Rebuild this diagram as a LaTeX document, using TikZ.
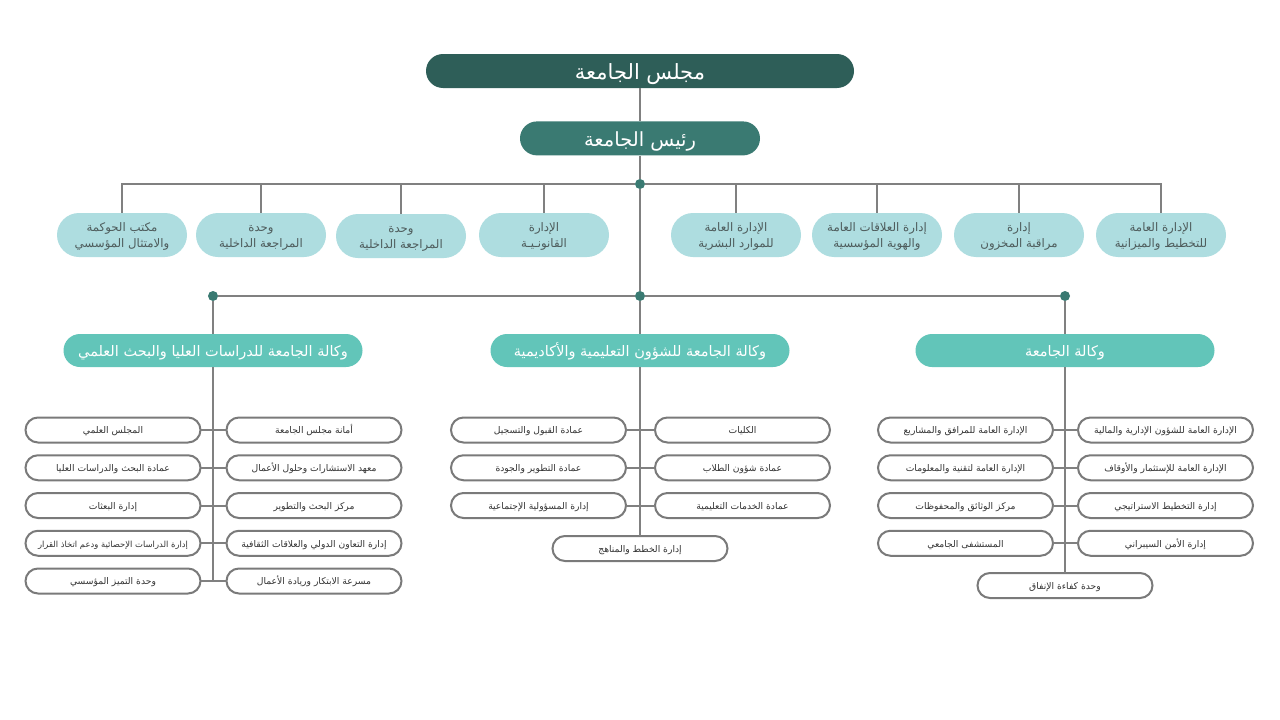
\documentclass[tikz,border=0pt]{standalone}
\usepackage{fontspec}
\setmainfont{DejaVu Sans}
\newfontfamily\arabicfont[Script=Arabic]{DejaVu Sans}
\TeXXeTstate=1
\usetikzlibrary{positioning}

\definecolor{majlisgreen}{RGB}{46,94,88}
\definecolor{raisgreen}{RGB}{58,122,114}
\definecolor{deptblue}{RGB}{174,221,224}
\definecolor{wakalateal}{RGB}{98,197,185}
\definecolor{deptgray}{RGB}{78,92,92}
\definecolor{linegray}{RGB}{128,128,128}
\definecolor{boxgray}{RGB}{122,122,122}

% fixed first-line height and last-line depth for two-line labels
\newcommand{\topstrut}{\rule{0pt}{14pt}}
\newcommand{\botstrut}{\rule[-5pt]{0pt}{0pt}}

\tikzset{
  conn/.style={draw=linegray,line width=2pt},
  majlisbox/.style={fill=majlisgreen,text=white,rounded corners=17pt,
    minimum width=428pt,minimum height=34pt,inner sep=0pt,
    text height=17.8pt,text depth=0pt,
    font=\arabicfont\fontsize{21}{24}\selectfont},
  raisbox/.style={fill=raisgreen,text=white,rounded corners=17pt,
    minimum width=240pt,minimum height=34pt,inner sep=0pt,
    text height=16.6pt,text depth=0pt,
    font=\arabicfont\fontsize{19.5}{22}\selectfont},
  deptbox/.style={fill=deptblue,text=deptgray,rounded corners=22pt,
    minimum width=130pt,minimum height=44pt,inner sep=0pt,align=center,
    font=\arabicfont\fontsize{11.75}{16}\selectfont},
  wakalabox/.style={fill=wakalateal,text=white,rounded corners=16.5pt,
    minimum width=299pt,minimum height=33pt,inner sep=0pt,
    text height=12.3pt,text depth=0pt,
    font=\arabicfont\fontsize{14.5}{17}\selectfont},
  unitbox/.style={draw=boxgray,line width=2pt,fill=white,text=black!80,
    rounded corners=12.5pt,minimum width=175pt,minimum height=25pt,
    inner sep=0pt,outer sep=0pt,text height=7.8pt,text depth=0pt,
    font=\arabicfont\fontsize{9.2}{11}\selectfont},
  dot/.style={circle,fill=raisgreen,inner sep=0pt,minimum size=10pt}
}

\begin{document}
\begin{tikzpicture}[x=1pt,y=-1pt]
  \fill [white] (0,0) rectangle (1280,720);
  \useasboundingbox (0,0) rectangle (1280,720);

  % Council and president
  \node [majlisbox] (majlis) at (640,71) {\beginR مجلس الجامعة\endR};
  \node [raisbox,below=33pt of majlis] (rais) {\beginR رئيس الجامعة\endR};
  \draw [conn] (majlis) -- (rais);

  % Departments under the president
  \node [dot] (j1) at (640,184) {};
  \node [deptbox] (d1) at (122,235) {\topstrut\beginR مكتب الحوكمة\endR\\\beginR والامتثال المؤسسي\endR\botstrut};
  \node [deptbox] (d2) at (261,235) {\topstrut\beginR وحدة\endR\\\beginR المراجعة الداخلية\endR\botstrut};
  \node [deptbox] (d3) at (401,236) {\topstrut\beginR وحدة\endR\\\beginR المراجعة الداخلية\endR\botstrut};
  \node [deptbox] (d4) at (544,235) {\topstrut\beginR الإدارة\endR\\\beginR القانونـيـة\endR\botstrut};
  \node [deptbox] (d5) at (736,235) {\topstrut\beginR الإدارة العامة\endR\\\beginR للموارد البشرية\endR\botstrut};
  \node [deptbox] (d6) at (877,235) {\topstrut\beginR إدارة العلاقات العامة\endR\\\beginR والهوية المؤسسية\endR\botstrut};
  \node [deptbox] (d7) at (1019,235) {\topstrut\beginR إدارة\endR\\\beginR مراقبة المخزون\endR\botstrut};
  \node [deptbox] (d8) at (1161,235) {\topstrut\beginR الإدارة العامة\endR\\\beginR للتخطيط والميزانية\endR\botstrut};
  \draw [conn] (rais) -- (j1);
  \draw [conn] (j1) -| (d1);
  \draw [conn] (j1) -| (d2);
  \draw [conn] (j1) -| (d3);
  \draw [conn] (j1) -| (d4);
  \draw [conn] (j1) -| (d5);
  \draw [conn] (j1) -| (d6);
  \draw [conn] (j1) -| (d7);
  \draw [conn] (j1) -| (d8);

  % Vice presidencies
  \node [dot] (j2) at (640,296) {};
  \node [dot] (jl) at (213,296) {};
  \node [dot] (jr) at (1065,296) {};
  \node [wakalabox] (w1) at (213,350.5) {\beginR وكالة الجامعة للدراسات العليا والبحث العلمي\endR};
  \node [wakalabox] (w2) at (640,350.5) {\beginR وكالة الجامعة للشؤون التعليمية والأكاديمية\endR};
  \node [wakalabox] (w3) at (1065,350.5) {\beginR وكالة الجامعة\endR};
  \draw [conn] (j1) -- (j2);
  \draw [conn] (jl) -- (j2) -- (jr);
  \draw [conn] (jl) -- (w1);
  \draw [conn] (j2) -- (w2);
  \draw [conn] (jr) -- (w3);

  % Graduate studies and research
  \node [unitbox] (gsL1) at (113,430) {\beginR المجلس العلمي\endR};
  \node [unitbox,right=26pt of gsL1] (gsR1) {\beginR أمانة مجلس الجامعة\endR};
  \node [unitbox,below=12.75pt of gsL1] (gsL2) {\beginR عمادة البحث والدراسات العليا\endR};
  \node [unitbox,right=26pt of gsL2] (gsR2) {\beginR معهد الاستشارات وحلول الأعمال\endR};
  \node [unitbox,below=12.75pt of gsL2] (gsL3) {\beginR إدارة البعثات\endR};
  \node [unitbox,right=26pt of gsL3] (gsR3) {\beginR مركز البحث والتطوير\endR};
  \node [unitbox,below=12.75pt of gsL3,font=\arabicfont\fontsize{8.4}{10}\selectfont] (gsL4) {\beginR إدارة الدراسات الإحصائية ودعم اتخاذ القرار\endR};
  \node [unitbox,right=26pt of gsL4] (gsR4) {\beginR إدارة التعاون الدولي والعلاقات الثقافية\endR};
  \node [unitbox,below=12.75pt of gsL4] (gsL5) {\beginR وحدة التميز المؤسسي\endR};
  \node [unitbox,right=26pt of gsL5] (gsR5) {\beginR مسرعة الابتكار وريادة الأعمال\endR};
  \draw [conn] (w1) -- (w1 |- gsL5);
  \draw [conn] (gsL1) -- (gsR1);
  \draw [conn] (gsL2) -- (gsR2);
  \draw [conn] (gsL3) -- (gsR3);
  \draw [conn] (gsL4) -- (gsR4);
  \draw [conn] (gsL5) -- (gsR5);

  % Academic affairs
  \node [unitbox] (acL1) at (538.5,430) {\beginR عمادة القبول والتسجيل\endR};
  \node [unitbox,right=29pt of acL1] (acR1) {\beginR الكليات\endR};
  \node [unitbox,below=12.75pt of acL1] (acL2) {\beginR عمادة التطوير والجودة\endR};
  \node [unitbox,right=29pt of acL2] (acR2) {\beginR عمادة شؤون الطلاب\endR};
  \node [unitbox,below=12.75pt of acL2] (acL3) {\beginR إدارة المسؤولية الإجتماعية\endR};
  \node [unitbox,right=29pt of acL3] (acR3) {\beginR عمادة الخدمات التعليمية\endR};
  \node [unitbox] (ac7) at (640,548.5) {\beginR إدارة الخطط والمناهج\endR};
  \draw [conn] (w2) -- (ac7);
  \draw [conn] (acL1) -- (acR1);
  \draw [conn] (acL2) -- (acR2);
  \draw [conn] (acL3) -- (acR3);

  % University vice presidency
  \node [unitbox] (vL1) at (965.5,430) {\beginR الإدارة العامة للمرافق والمشاريع\endR};
  \node [unitbox,right=25pt of vL1] (vR1) {\beginR الإدارة العامة للشؤون الإدارية والمالية\endR};
  \node [unitbox,below=12.75pt of vL1] (vL2) {\beginR الإدارة العامة لتقنية والمعلومات\endR};
  \node [unitbox,right=25pt of vL2] (vR2) {\beginR الإدارة العامة للإستثمار والأوقاف\endR};
  \node [unitbox,below=12.75pt of vL2] (vL3) {\beginR مركز الوثائق والمحفوظات\endR};
  \node [unitbox,right=25pt of vL3] (vR3) {\beginR إدارة التخطيط الاستراتيجي\endR};
  \node [unitbox,below=12.75pt of vL3] (vL4) {\beginR المستشفى الجامعي\endR};
  \node [unitbox,right=25pt of vL4] (vR4) {\beginR إدارة الأمن السيبراني\endR};
  \node [unitbox] (v9) at (1065,585.5) {\beginR وحدة كفاءة الإنفاق\endR};
  \draw [conn] (w3) -- (v9);
  \draw [conn] (vL1) -- (vR1);
  \draw [conn] (vL2) -- (vR2);
  \draw [conn] (vL3) -- (vR3);
  \draw [conn] (vL4) -- (vR4);

\end{tikzpicture}
\end{document}
